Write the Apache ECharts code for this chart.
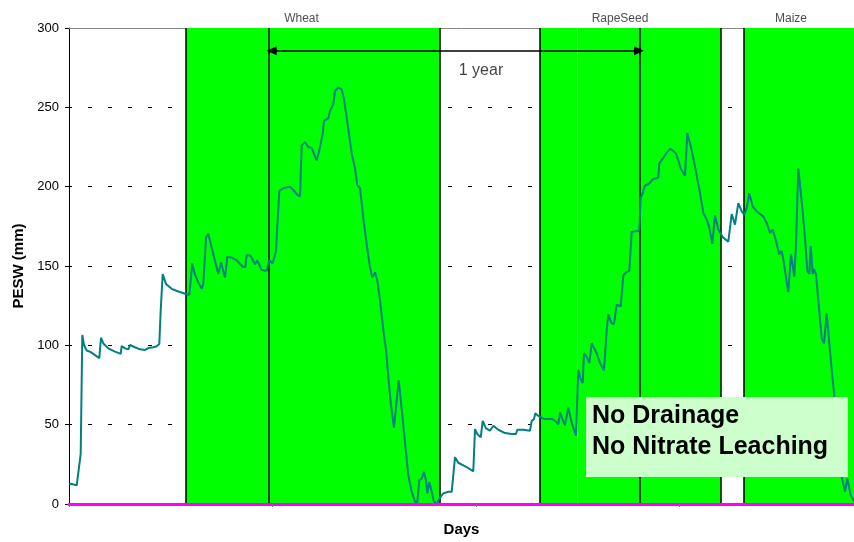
<!DOCTYPE html>
<html>
<head>
<meta charset="utf-8">
<script src="https://cdn.jsdelivr.net/npm/echarts@6/dist/echarts.min.js"></script>
<style>html,body{margin:0;padding:0;background:#fff;overflow:hidden}#c{width:854px;height:542px}</style>
</head>
<body>
<div id="c"></div>
<script>
// Day index (from start of simulation) and PESW values (mm)
var days = [0.3,7.7,9.3,11.7,12.7,13.3,15,17.7,21,24.3,30.3,32,34.3,39.3,46,51.7,52.7,56,59.3,61,66,71,76,79.3,84.3,87.7,90.3,91.7,93.7,97,102.7,109.3,117,120.3,123.3,126,129.3,132.7,134.3,135.7,137,139.3,144.3,149.3,152,156,158.3,162.7,167.7,173.7,176.3,177.7,181.7,186,188.3,192.7,197.7,200.3,203.7,207,208.3,210.3,214.3,221,224.3,228.3,231,232.7,236,239.3,242.7,247.7,250.3,253.7,255,259.3,261,264.3,266,269.3,272.7,275,279.3,282.7,286,288.3,291,294.3,297.7,301,303.3,306,308.3,311,314.3,317,319.3,321.7,325,327,329.7,332.7,336,339.3,342.7,346,348.3,350.3,352.7,355,357,358.3,360.3,362.7,365,368,371.7,374.3,379.3,382.7,386,389.3,397.7,404.3,406,408.3,411.7,413.7,417,421,424.3,429.3,436,442.7,447,448.3,454.3,461,462.7,465,466.3,469.3,474.3,479.3,482.7,486,489.3,491,493.3,496,499.3,502.7,507,509.3,511.7,513.7,515,517.7,520.3,522.7,527.7,531,535,537.7,539.3,542.7,545,547.7,551.7,554.3,557,560.3,562.7,567.7,570.3,571.7,573.7,576,579.3,584.3,589.3,590.3,593.7,597.7,601,603.7,607,609.3,611.7,613.7,616,618.3,622.7,627,631,634.3,637,640,643.3,646,649.3,653.7,659.3,662.7,666,669.3,672.7,675.3,677.7,680.3,683.7,687.7,691,694.3,697.7,701,703.7,707,710.3,712.7,714.3,717,719.3,722,725.3,727,729.3,732.7,736,738.3,740.3,741.7,743.7,745,747,749.3,752.7,755,757.7,760.3,762.7,765,768,771.7,776,778.3,781.7,784.3,787];
var pesw = [12.9,11.8,12,31.6,32.6,106.5,100.2,96.7,96,94.6,91.9,104.8,101.2,98.1,96,94.6,99.6,98.1,97.5,100.2,98.8,97.5,97.1,98.3,98.8,99.4,100.8,122,144.9,138.7,135.6,133.9,132.4,131.8,151.6,144.5,139.7,135.6,138.7,137.7,167.8,170.3,157.4,144.9,152.2,142.8,155.7,155.3,153.6,149.5,149.3,157,156.4,151.1,153.6,147.4,147,153.6,151.6,159.5,160.5,197.3,199,200,197.9,194.8,193.8,226,228.1,225,224.3,216.6,222.9,233.3,241.6,243,247.8,252,260.3,262.4,261.3,255.1,236.4,220.8,211.4,201,199,180.2,163.6,149.1,142.8,146,140.8,128.3,109.6,97.1,80.5,63.8,48.2,48.2,78,59.7,38.9,18.1,7.7,1.4,1,15,16,20.2,15,6.7,13.9,7.7,1.4,0.5,4.6,6.7,7.7,7.7,29.5,26,23.3,20.6,47.2,44.1,42,52.4,47.6,46.2,49.3,46.8,44.7,44.1,44.1,46.8,46.8,46.2,52.4,53.6,57.2,55.5,53.8,53.6,53.8,52.4,50.3,57.6,53.6,49.7,60.7,51.3,43,84.6,78.4,76.3,95,92.9,88.8,101.2,95,88.8,84.2,109.6,119.6,113.7,113.5,125.6,124.6,143.9,146,147,171.5,172,172.4,193.2,195.9,200.7,201.5,204.8,205.6,214.6,217.7,221.4,223.9,222.9,220.8,216.6,211.4,211.6,206.9,233.9,222.9,209.4,195.9,183.4,180.3,175.1,164,181.9,173,168.2,165.3,182.8,176.1,189.6,184.4,182.4,186.5,195.9,187.5,184.4,182.8,181.3,177.1,170.9,173,165.7,157.4,159.5,154.2,142.8,133.5,157.4,143.3,163.6,211.4,190.7,167.8,147,144.9,162.6,144.9,148,144.9,128.3,104.4,101.2,120,101.2,84.6,70,45,20.2,7.7,16,5.6,2.5,0];

// Crop seasons (day ranges) and labels
var cropNames = ['Wheat', 'RapeSeed', 'Maize'];
var cropStart = [117, 471, 675];
var cropEnd = [371, 652, 785];
var cropLabelDay = [232.5, 551, 722];
// Vertical reference lines (days)
var vLines = [117, 200, 371, 471, 571, 652, 675];
var faintLine = [508];
// One-year arrow
var yearArrow = [202.7, 570];
var yearArrowLevel = 285.7;
var yearLabel = '1 year';
var yearLabelPos = [412, 273.2];
// Y ticks
var yMin = 0, yMax = 300, yStep = 50;
var xMax = 785;
// Annotation
var noteLines = ['No Drainage', 'No Nitrate Leaching'];

var FONT = 'Liberation Sans, Arial, sans-serif';
var chart = echarts.init(document.getElementById('c'), null, {renderer: 'canvas', width: 854, height: 542});

var lineData = days.map(function (d, i) { return [d, pesw[i]]; });
var areas = cropNames.map(function (n, i) { return [{xAxis: cropStart[i]}, {xAxis: cropEnd[i]}]; });
var vlineData = vLines.map(function (d) { return {xAxis: d}; });
faintLine.forEach(function (d) { vlineData.push({xAxis: d, lineStyle: {color: '#44ff44', width: 1}}); });
vlineData.push([{coord: [yearArrow[0], yearArrowLevel], symbol: 'triangle'}, {coord: [yearArrow[1], yearArrowLevel], symbol: 'triangle'}]);

chart.setOption({
  animation: false,
  backgroundColor: '#ffffff',
  grid: {left: 69, right: 0, top: 28, bottom: 33, containLabel: false},
  xAxis: [{
    type: 'value', min: 0, max: xMax, interval: 203.5, position: 'bottom', z: 10,
    name: 'Days', nameLocation: 'middle', nameGap: 18,
    nameTextStyle: {fontFamily: FONT, fontWeight: 'bold', fontSize: 15, color: '#000'},
    axisLine: {show: true, onZero: false, lineStyle: {color: '#ff00ff', width: 3}},
    axisTick: {show: true, length: 3, lineStyle: {color: '#777'}},
    axisLabel: {show: false},
    splitLine: {show: false}
  }, {
    type: 'value', min: 0, max: xMax, position: 'top', z: 0,
    axisLine: {show: true, onZero: false, lineStyle: {color: '#888', width: 1}},
    axisTick: {show: false}, axisLabel: {show: false}, splitLine: {show: false}
  }],
  yAxis: {
    type: 'value', min: yMin, max: yMax, interval: yStep,
    name: 'PESW (mm)', nameLocation: 'middle', nameGap: 39, nameRotate: 90,
    nameTextStyle: {fontFamily: FONT, fontWeight: 'bold', fontSize: 15, color: '#000'},
    axisLine: {show: true, onZero: false, lineStyle: {color: '#000', width: 1}},
    axisTick: {show: true, inside: false, length: 4, lineStyle: {color: '#000'}},
    axisLabel: {fontFamily: FONT, fontSize: 13, color: '#000', margin: 10},
    splitLine: {show: true, lineStyle: {color: '#000', width: 1, type: [4, 16], dashOffset: 1}}
  },
  series: [{
    type: 'line', data: [], z: 1, silent: true,
    markArea: {silent: true, itemStyle: {color: '#00ff00', opacity: 1}, data: areas},
    markLine: {silent: true, symbol: 'none', symbolSize: [9, 10], animation: false,
      label: {show: false},
      lineStyle: {color: '#000', width: 1.5, type: 'solid'},
      data: vlineData}
  }, {
    type: 'line', data: lineData, z: 5, showSymbol: false, symbol: 'none',
    lineStyle: {color: '#008080', width: 2}, itemStyle: {color: '#008080'}
  }, {
    type: 'scatter', z: 6, symbolSize: 0, clip: false, silent: true,
    data: cropNames.map(function (n, i) { return {name: n, value: [cropLabelDay[i], yMax]}; }),
    label: {show: true, position: 'top', distance: 3, formatter: '{b}', fontFamily: FONT, fontSize: 12, color: '#222'}
  }, {
    type: 'scatter', z: 6, symbolSize: 0, clip: false, silent: true,
    data: [{name: yearLabel, value: yearLabelPos}],
    label: {show: true, position: 'inside', formatter: '{b}', fontFamily: FONT, fontSize: 16, color: '#111'}
  }],
  graphic: {
    elements: [{
      type: 'rect', left: 586, top: 397, z: 100, zlevel: 1,
      shape: {width: 262, height: 80},
      style: {fill: '#ccffcc'}
    }, {
      type: 'text', left: 592, top: 401, z: 101, zlevel: 1,
      style: {text: noteLines.join('\n'), font: 'bold 25px ' + FONT, fill: '#000', lineHeight: 31}
    }]
  }
});
</script>
</body>
</html>
